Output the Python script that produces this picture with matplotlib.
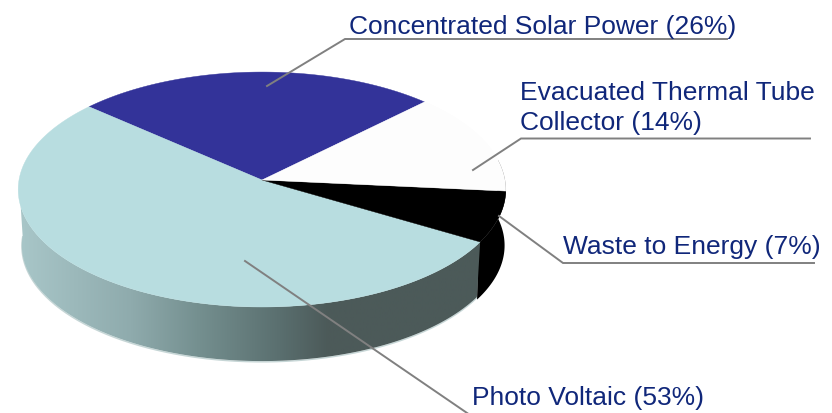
import numpy as np
import matplotlib
matplotlib.use('Agg')
import matplotlib.pyplot as plt
from matplotlib.colors import LinearSegmentedColormap
from matplotlib.patches import Polygon

# slices, counter clockwise from the back right
labels = ['Concentrated Solar Power (26%)', 'Photo Voltaic (53%)',
          'Waste to Energy (7%)', 'Evacuated Thermal Tube\nCollector (14%)']
shares = [26, 53, 7, 14]
colors = ['#333399', '#b8dde0', '#000000', '#fdfdfd']
start_angle = 45

# leader lines, pixels of the picture
leaders = [[(267, 87), (345, 40), (727, 40)],
           [(245, 262), (470, 416)],
           [(499, 217), (563, 264), (814, 264)],
           [(473, 171), (521, 139.5), (810, 139.5)]]
label_pos = [(349, 27), (472, 398), (563, 247), (520, 108)]

# pie geometry: a circle seen in perspective
cx, cy = 262, 181
rx, ry, k = 243, 116.7, 0.081
depth = 56
shrink = 0.985


def rim(a, scale=1.0, dy=0):
    t = np.radians(a)
    w = 1 + k * np.sin(t)
    return cx + scale * rx * np.cos(t) / w, cy + dy - scale * ry * np.sin(t) / w


def arc(a0, a1, scale=1.0, dy=0):
    aa = np.linspace(a0, a1, 200)
    x, y = rim(aa, scale, dy)
    return np.column_stack([x, y])


plt.rcParams['font.family'] = ['Liberation Sans', 'DejaVu Sans']
fig = plt.figure(figsize=(8.32, 4.14), dpi=100)
ax = fig.add_axes([0, 0, 1, 1])
ax.set_xlim(0, 832)
ax.set_ylim(414, 0)
ax.axis('off')

edges = start_angle + np.cumsum([0] + shares) * 3.6
pv_end = edges[2]

# black wall goes slightly under the other one so no seam shows
black_wall = np.vstack([arc(pv_end - 1, 370), arc(370, pv_end - 1, 0.995, depth)])
ax.add_patch(Polygon(black_wall, closed=True, fc='#000000', ec='none', zorder=1))

# side wall
wall_cmap = LinearSegmentedColormap.from_list('wall', [
    (0.0, '#a8c6c8'), (0.24, '#8fabad'), (0.39, '#748f8f'),
    (0.565, '#5a6f6f'), (0.67, '#4c5a59'), (1.0, '#4c5a59')])
wall = np.vstack([arc(180, pv_end), arc(pv_end, 180, shrink, depth)])
wall_patch = Polygon(wall, closed=True, fc='none', ec='none')
ax.add_patch(wall_patch)
grad = np.linspace(0, 1, 256).reshape(1, -1)
img = ax.imshow(grad, cmap=wall_cmap, extent=(20, 480, 414, 0), aspect='auto', zorder=1.5)
img.set_clip_path(wall_patch)
ax.set_xlim(0, 832)
ax.set_ylim(414, 0)

# thin pale halo under the wall
halo = arc(180, pv_end, shrink, depth + 0.8)
ax.plot(halo[:, 0], halo[:, 1], color='#c6d6d6', lw=1.0, zorder=0.9)

# top face
for a0, a1, c in zip(edges[:-1], edges[1:], colors):
    pts = np.vstack([[(cx, cy)], arc(a0, a1)])
    ax.add_patch(Polygon(pts, closed=True, fc=c, ec=c, lw=0.3, zorder=2))

for pts in leaders:
    xs, ys = zip(*pts)
    ax.plot(xs, ys, color='#808080', lw=1.4, zorder=3, solid_joinstyle='miter')

for (x, y), txt in zip(label_pos, labels):
    ax.text(x, y, txt, color='#10277a', fontsize=19, ha='left', va='center',
            linespacing=1.36, zorder=4)

fig.savefig('out.png', dpi=100)
